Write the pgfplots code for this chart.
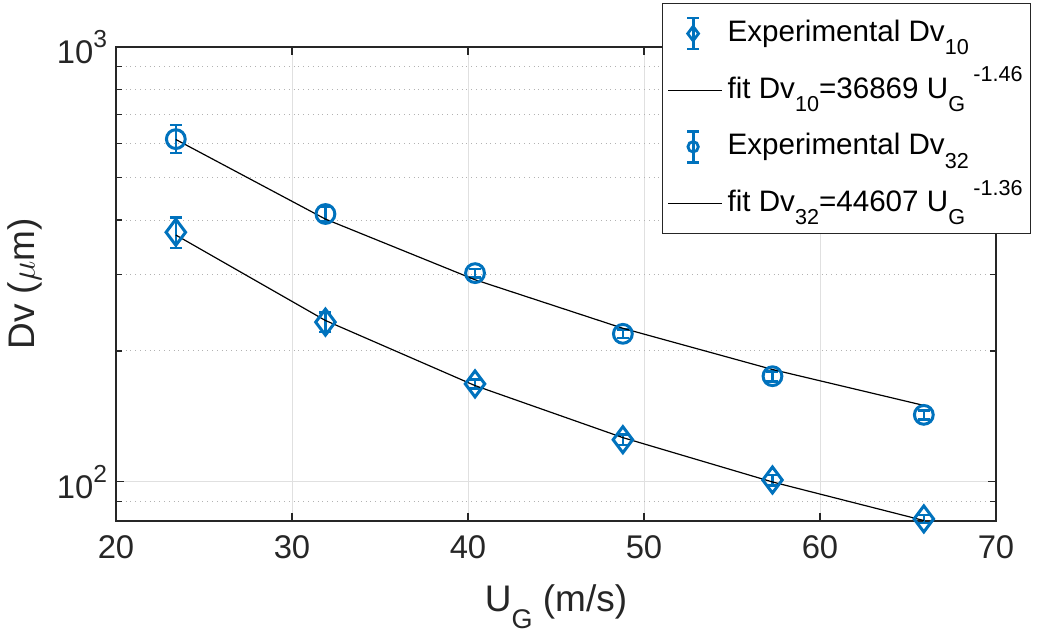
\documentclass[border=0pt]{standalone}
\usepackage{pgfplots}
\pgfplotsset{compat=1.18}
\usepackage{fontspec}
\setmainfont{Liberation Sans}
\definecolor{mblue}{rgb}{0,0.447,0.741}
\definecolor{axgray}{rgb}{0.15,0.15,0.15}
\newcommand{\lsub}[1]{\raisebox{-0.45em}{\fontsize{10.8}{10.8}\selectfont #1}}
\newcommand{\lsup}[1]{\raisebox{0.55em}{\fontsize{10.8}{10.8}\selectfont #1}}
\begin{document}
\begin{tikzpicture}
\useasboundingbox (0,0) rectangle (519.5pt,317.5pt);
\begin{axis}[
  at={(58pt,57pt)}, anchor=south west,
  scale only axis, width=440pt, height=237pt,
  ymode=log, xmin=20, xmax=70, ymin=81.3, ymax=1000,
  xtick={20,30,40,50,60,70},
  xticklabels={20,30,40,50,60,70},
  ytick={100,1000},
  yticklabels={10\raisebox{0.48em}{\fontsize{12.3}{12.3}\selectfont 2},10\raisebox{0.48em}{\fontsize{12.3}{12.3}\selectfont 3}},
  minor ytick={90,200,300,400,500,600,700,800,900},
  tick align=inside,
  major tick length=4pt, minor tick length=3pt,
  xmajorgrids, ymajorgrids, yminorgrids,
  major grid style={color=black!12, line width=0.5pt},
  minor grid style={dotted, color=black!30, line width=0.5pt},
  axis line style={axgray, line width=0.6pt},
  tick style={axgray, line width=0.6pt},
  ticklabel style={font=\fontsize{16.4}{19}\selectfont, text=axgray},
  xticklabel style={yshift=-4pt},
  yticklabel style={xshift=-1pt},
  xlabel={U\raisebox{-0.45em}{\fontsize{13.5}{13.5}\selectfont G} (m/s)},
  ylabel={Dv ($\mu$m)},
  label style={font=\fontsize{18.5}{22}\selectfont, text=axgray},
  xlabel style={at={(rel axis cs:0.5,0)}, yshift=-45.5pt, anchor=base},
  ylabel style={at={(rel axis cs:-0.0925,0.5)}, anchor=base, rotate=0},
  clip=false,
  legend style={at={(rel axis cs:0.6205,1.0928)}, anchor=north west,
    draw=axgray, line width=0.6pt, fill=white,
    font=\fontsize{14.8}{17}\selectfont, text=black,
    cells={anchor=west}, row sep=2.3pt, inner sep=2pt,
    nodes={text height=15pt, text depth=7pt, inner sep=2pt}},
]
% Experimental Dv10
\addplot[mblue, only marks, mark=diamond, mark size=6.5pt, line width=1.5pt,
  legend image code/.code={
    \path (0pt,0pt) (27pt,0pt);
    \draw[mblue, line width=1.4pt, solid] (12.5pt,-7.75pt) -- (12.5pt,7.75pt)
      (9.5pt,-7.75pt) -- (15.5pt,-7.75pt) (9.5pt,7.75pt) -- (15.5pt,7.75pt);
    \draw[mblue, line width=1.4pt, solid, mark size=3.6pt] plot[mark=diamond] coordinates {(12.5pt,0pt)};
  },
  error bars/.cd, y dir=both, y explicit,
  error bar style={line width=1.3pt, mblue},
  error mark options={line width=1.3pt, mblue, mark size=3pt, rotate=90}]
  coordinates {
  (23.4,375) += (0,31) -= (0,30)
  (31.9,233) +- (0,12)
  (40.4,168) +- (0,4)
  (48.8,125) +- (0,3.5)
  (57.3,101) +- (0,2.8)
  (65.9,82.2) +- (0,1.8)
};
\addlegendentry{Experimental Dv\lsub{10}}
\addplot[black, line width=0.6pt, no marks,
  legend image code/.code={\draw[black, line width=0.6pt] (0pt,0pt) -- (27pt,0pt);}]
  coordinates {(23.4,369.5) (31.9,235.0) (40.4,166.5) (48.8,126.4) (57.3,99.95) (65.9,81.5)};
\addlegendentry{fit Dv\lsub{10}=36869 U\lsub{G}\ \lsup{-1.46}}
% Experimental Dv32
\addplot[mblue, only marks, mark=o, mark size=4.7pt, line width=1.5pt,
  legend image code/.code={
    \path (0pt,0pt) (27pt,0pt);
    \draw[mblue, line width=1.4pt, solid] (12.5pt,-7.75pt) -- (12.5pt,7.75pt)
      (9.5pt,-7.75pt) -- (15.5pt,-7.75pt) (9.5pt,7.75pt) -- (15.5pt,7.75pt);
    \draw[mblue, line width=1.4pt, solid, mark size=2.6pt] plot[mark=o] coordinates {(12.5pt,0pt)};
  },
  error bars/.cd, y dir=both, y explicit,
  error bar style={line width=1.3pt, mblue},
  error mark options={line width=1.3pt, mblue, mark size=3pt, rotate=90}]
  coordinates {
  (23.4,614) += (0,48) -= (0,43)
  (31.9,413) +- (0,16)
  (40.4,302) +- (0,7)
  (48.8,219) +- (0,5)
  (57.3,175) +- (0,4.6)
  (65.9,142.6) +- (0,3.4)
};
\addlegendentry{Experimental Dv\lsub{32}}
\addplot[black, line width=0.6pt, no marks,
  legend image code/.code={\draw[black, line width=0.6pt] (0pt,0pt) -- (27pt,0pt);}]
  coordinates {(23.4,612.7) (31.9,402.0) (40.4,291.6) (48.8,225.5) (57.3,181.3) (65.9,149.9)};
\addlegendentry{fit Dv\lsub{32}=44607 U\lsub{G}\ \lsup{-1.36}}
\end{axis}
\end{tikzpicture}
\end{document}
